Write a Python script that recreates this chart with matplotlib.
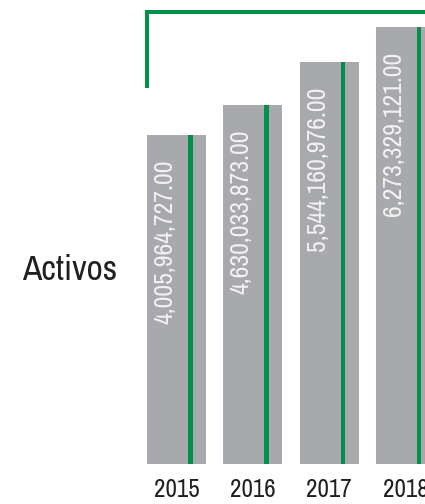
"""
Activos por año: barras grises con línea verde y valor vertical
"""
import numpy as np
import matplotlib
matplotlib.use('Agg')
import matplotlib.pyplot as plt
from matplotlib import font_manager

# data
years = ['2015', '2016', '2017', '2018']
activos = [4005964727.00, 4630033873.00, 5544160976.00, 6273329121.00]
value_labels = ['4,005,964,727.00', '4,630,033,873.00',
                '5,544,160,976.00', '6,273,329,121.00']
row_label = 'Activos'

GRAY = '#A7A9AC'
GREEN = '#00924A'

# look for a narrow face, the original uses a condensed type
narrow = [f for f in font_manager.fontManager.ttflist
          if f.stretch in ('condensed', 'semi-condensed', 'extra-condensed')
          or 'Narrow' in f.name or 'Condensed' in f.name]
if any('Narrow' in f.name for f in narrow):
    FONT = [f.name for f in narrow if 'Narrow' in f.name][0]
    STRETCH = 'normal'
elif narrow:
    FONT = narrow[0].name
    STRETCH = narrow[0].stretch
else:
    FONT = 'DejaVu Sans'
    STRETCH = 'normal'

plt.rcParams['font.family'] = [FONT, 'DejaVu Sans']
plt.rcParams['font.stretch'] = STRETCH

fig = plt.figure(figsize=(4.25, 5.04), dpi=100)
ax = fig.add_axes([0, 0, 1, 1])
ax.set_axis_off()

# value axis does not start at zero in the original
base = -2.884e9
x = np.arange(len(years))
vals = np.array(activos)

ax.bar(x, vals - base, bottom=base, width=0.773, color=GRAY, linewidth=0)
# green stripe inside each bar
ax.bar(x + 0.181, vals - base, bottom=base, width=0.059, color=GREEN,
       linewidth=0)

ax.set_xlim(-2.313, 3.257)
ax.set_ylim(-3.722e9, 6.840e9)

for xi, v, lab in zip(x, vals, value_labels):
    ax.annotate(lab, (xi - 0.15, v), xytext=(0, -17.5), textcoords='offset points',
                rotation=90, ha='center', va='top', color='#F2F2F2',
                fontsize=18.5, fontweight='light')

for xi, yr in zip(x, years):
    ax.text(xi, 0.028, yr, transform=ax.get_xaxis_transform(),
            ha='center', va='center', fontsize=18, color='#231F20',
            fontweight='light')

ax.text(70 / 425, 1 - 270 / 504, row_label, transform=ax.transAxes,
        ha='center', va='center', fontsize=25.5, color='#231F20',
        fontweight='light')

# green bracket on top
ax.plot([147 / 425, 147 / 425, 1.01], [1 - 88 / 504, 1 - 12 / 504, 1 - 12 / 504],
        transform=ax.transAxes, color=GREEN, lw=2.9,
        solid_joinstyle='miter', solid_capstyle='butt', clip_on=False)

fig.savefig('out.png', dpi=100)
